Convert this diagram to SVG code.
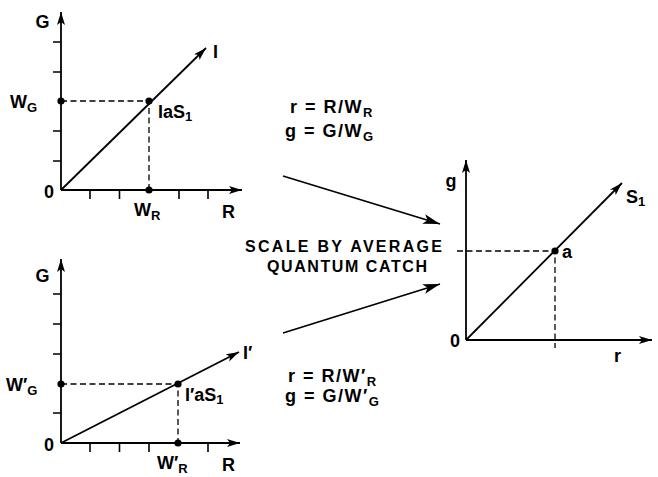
<svg xmlns="http://www.w3.org/2000/svg" width="658" height="477" viewBox="0 0 658 477">
<defs>
<marker id="ah" markerUnits="userSpaceOnUse" markerWidth="14" markerHeight="10" refX="13" refY="4" orient="auto">
<path d="M0,0 L13,4 L0,8 L3,4 z" fill="#000"/>
</marker>
<marker id="ahb" markerUnits="userSpaceOnUse" markerWidth="18" markerHeight="12" refX="17" refY="5" orient="auto">
<path d="M0,0 L17,5 L0,10 L4,5 z" fill="#000"/>
</marker>
<style>
.ax{stroke:#000;stroke-width:1.8;fill:none}
.tk{stroke:#000;stroke-width:1.6}
.ds{stroke:#000;stroke-width:1.3;stroke-dasharray:6,3.5;fill:none}
.lb{font-family:"Liberation Sans",Arial,sans-serif;font-weight:bold;font-size:18px;fill:#000}
.sb{font-size:13px}
.eq{font-family:"Liberation Sans",Arial,sans-serif;font-weight:bold;font-size:18px;fill:#000;letter-spacing:1.5px}
.cap{font-family:"Liberation Sans",Arial,sans-serif;font-weight:bold;font-size:16px;fill:#000}
</style>
</defs>
<rect width="658" height="477" fill="#fff"/>

<g id="plot-top">
<path class="ax" d="M61,190 V12" marker-end="url(#ah)"/>
<path class="ax" d="M61,190 H242" marker-end="url(#ah)"/>
<path class="tk" d="M53,42 H61 M53,72 H61 M53,131 H61 M53,161 H61 M90,190 V199 M119.5,190 V199 M179,190 V199 M208,190 V199"/>
<path class="ds" d="M61,101 H149 V190"/>
<path class="ax" d="M61,190 L206,48" marker-end="url(#ah)"/>
<circle cx="61" cy="101" r="3.6"/>
<circle cx="149" cy="101" r="3.6"/>
<circle cx="149" cy="190" r="3.6"/>
<text class="lb" x="42.5" y="28" text-anchor="middle">G</text>
<text class="lb" x="10" y="108">W<tspan class="sb" dy="4">G</tspan></text>
<text class="lb" x="213" y="58">I</text>
<text class="lb" x="158" y="118">IaS<tspan class="sb" dy="3">1</tspan></text>
<text class="lb" x="49" y="198" text-anchor="middle">0</text>
<text class="lb" x="134" y="216">W<tspan class="sb" dy="4">R</tspan></text>
<text class="lb" x="222" y="218">R</text>
</g>

<g id="plot-bottom">
<path class="ax" d="M61,443 V259" marker-end="url(#ah)"/>
<path class="ax" d="M61,443 H240" marker-end="url(#ah)"/>
<path class="tk" d="M53,294 H61 M53,324 H61 M53,354 H61 M53,413 H61 M90,443 V452 M119.5,443 V452 M149,443 V452 M208,443 V452"/>
<path class="ds" d="M61,384 H178 V443"/>
<path class="ax" d="M61,443 L239,352" marker-end="url(#ah)"/>
<circle cx="61" cy="384" r="3.6"/>
<circle cx="178" cy="384" r="3.6"/>
<circle cx="178" cy="443" r="3.6"/>
<text class="lb" x="42.5" y="282" text-anchor="middle">G</text>
<text class="lb" x="6" y="391">W′<tspan class="sb" dy="4">G</tspan></text>
<text class="lb" x="243" y="359">I′</text>
<text class="lb" x="185" y="401">I′aS<tspan class="sb" dy="3">1</tspan></text>
<text class="lb" x="49" y="451" text-anchor="middle">0</text>
<text class="lb" x="157" y="469">W′<tspan class="sb" dy="4">R</tspan></text>
<text class="lb" x="222" y="471">R</text>
</g>

<g id="plot-right">
<path class="ax" d="M466,340 V160" marker-end="url(#ah)"/>
<path class="ax" d="M466,340 H652" marker-end="url(#ah)"/>
<path class="ds" d="M457,251 H555 V348"/>
<path class="ax" d="M466,340 L622,183" marker-end="url(#ah)"/>
<circle cx="555" cy="251" r="3.6"/>
<text class="lb" x="451" y="187" text-anchor="middle">g</text>
<text class="lb" x="455" y="347" text-anchor="middle">0</text>
<text class="lb" x="614" y="362">r</text>
<text class="lb" x="562" y="258">a</text>
<text class="lb" x="626" y="203">S<tspan class="sb" dy="3">1</tspan></text>
</g>

<g id="labels-middle">
<text class="eq" x="290" y="113">r = R/W<tspan class="sb" dy="4">R</tspan></text>
<text class="eq" x="285" y="137">g = G/W<tspan class="sb" dy="4">G</tspan></text>
<text class="cap" x="245" y="252" textLength="197" lengthAdjust="spacing">SCALE BY AVERAGE</text>
<text class="cap" x="267" y="272" textLength="160" lengthAdjust="spacing">QUANTUM CATCH</text>
<text class="eq" x="288" y="382">r = R/W′<tspan class="sb" dy="4">R</tspan></text>
<text class="eq" x="285" y="402">g = G/W′<tspan class="sb" dy="4">G</tspan></text>
</g>

<g id="connectors">
<path class="ax" d="M283,176 L440,224" marker-end="url(#ahb)"/>
<path class="ax" d="M283,333 L440,284" marker-end="url(#ahb)"/>
</g>
</svg>
